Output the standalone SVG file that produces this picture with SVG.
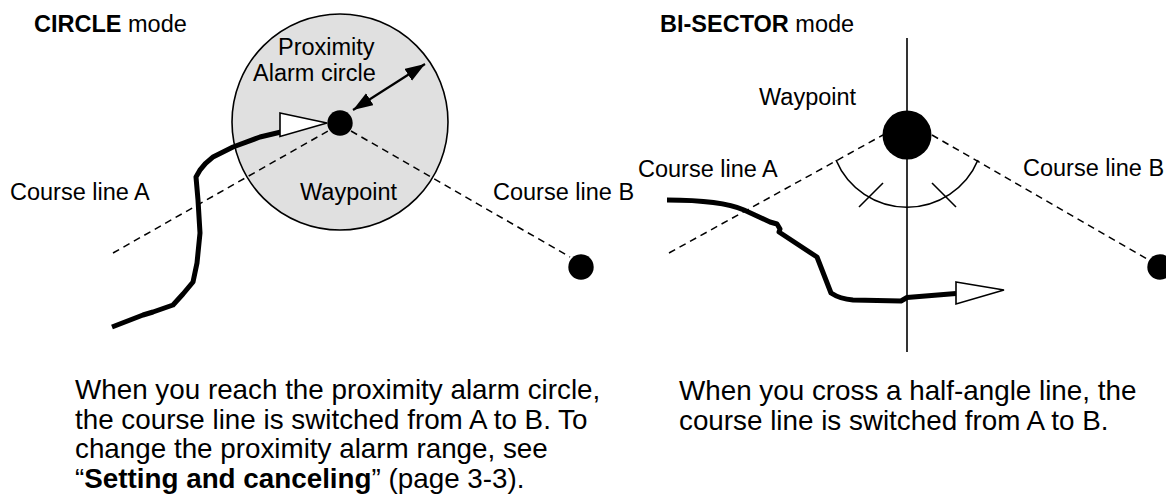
<svg xmlns="http://www.w3.org/2000/svg" width="1166" height="500" viewBox="0 0 1166 500">
  <style>
    text { font-family: "Liberation Sans", Arial, sans-serif; fill: #000; }
    .lbl { font-size: 23.5px; }
    .body { font-size: 27.8px; }
    .b { font-weight: bold; }
    .dash { fill: none; stroke: #000; stroke-width: 1.5; stroke-dasharray: 7 5; }
    .track { fill: none; stroke: #000; stroke-width: 5; stroke-linejoin: round; stroke-linecap: butt; }
    .thin { fill: none; stroke: #000; stroke-width: 1.6; }
    .open { fill: #fff; stroke: #000; stroke-width: 1.6; stroke-linejoin: miter; }
  </style>
  <defs>
    <marker id="ah" markerUnits="userSpaceOnUse" markerWidth="22" markerHeight="16" refX="20" refY="7" orient="auto-start-reverse" viewBox="0 0 22 16">
      <path d="M0,0 L20,7 L0,14 z" fill="#000"/>
    </marker>
  </defs>

  <rect width="1166" height="500" fill="#fff"/>

  <!-- LEFT PANEL: CIRCLE mode -->
  <g id="circle-mode-title">
    <text x="34" y="32" class="lbl"><tspan class="b">CIRCLE</tspan> mode</text>
  </g>
  <g id="proximity-circle">
    <circle cx="340" cy="122" r="108" fill="#e0e0e0" stroke="#000" stroke-width="1.6"/>
    <text x="278" y="55" class="lbl">Proximity</text>
    <text x="253" y="81" class="lbl">Alarm circle</text>
  </g>
  <g id="label-course-a-left">
    <text x="10" y="200" class="lbl">Course line A</text>
  </g>
  <g id="label-course-b-left">
    <text x="493" y="200" class="lbl">Course line B</text>
  </g>

  <!-- RIGHT PANEL: BI-SECTOR mode -->
  <g id="bisector-mode-title">
    <text x="660" y="32" class="lbl"><tspan class="b">BI-SECTOR</tspan> mode</text>
  </g>
  <g id="label-waypoint-right">
    <text x="759" y="105" class="lbl">Waypoint</text>
  </g>
  <g id="label-course-a-right">
    <text x="638" y="177" class="lbl">Course line A</text>
  </g>
  <g id="label-course-b-right">
    <text x="1023" y="176" class="lbl">Course line B</text>
  </g>

  <!-- connectors -->
  <g id="connectors">
    <!-- left dashed course lines -->
    <line class="dash" x1="113" y1="253" x2="328" y2="131"/>
    <line class="dash" x1="351" y1="131" x2="570" y2="257"/>
    <!-- range double arrow -->
    <line x1="353" y1="110" x2="425" y2="64" stroke="#000" stroke-width="2.2" marker-start="url(#ah)" marker-end="url(#ah)"/>
    <!-- left track -->
    <path class="track" d="M112,327 L143,315 L153,312 L173,305 L183,294 L193,282 L197,263 L200,233 L198,200 L196,177 L200,170 Q205,163 213,157 L233,147 L260,137 L281,132"/>
    <polygon class="open" points="280,113 327,123 280,136.5"/>

    <!-- right vertical bisector -->
    <line class="thin" x1="907" y1="38" x2="907" y2="352"/>
    <!-- right dashed course lines -->
    <line class="dash" x1="669" y1="253" x2="883" y2="135"/>
    <line class="dash" x1="932" y1="135" x2="1149" y2="260"/>
    <!-- angle arc and ticks -->
    <path class="thin" d="M836,160 A77,77 0 0 0 978,160"/>
    <line class="thin" x1="859" y1="207" x2="883" y2="183"/>
    <line class="thin" x1="932" y1="183" x2="956" y2="207"/>
    <!-- right track -->
    <path class="track" d="M667,200 C700,200 728,203 744,210 L770,222 L777,224 L780,229 L779,232 L817,257 L831,293 Q840,299 853,300 L901,301 L907,297.5 L956,293.5"/>
    <polygon class="open" points="956,282 1004,290 956,304"/>
  </g>

  <!-- waypoints (drawn above lines) -->
  <g id="waypoint-left">
    <circle cx="340" cy="123" r="12.7" fill="#000"/>
    <text x="300" y="200" class="lbl">Waypoint</text>
  </g>
  <g id="point-b-left">
    <circle cx="581" cy="267" r="12.7" fill="#000"/>
  </g>
  <g id="waypoint-right">
    <circle cx="907" cy="135" r="24.5" fill="#000"/>
  </g>
  <g id="point-b-right">
    <circle cx="1160" cy="267" r="12.7" fill="#000"/>
  </g>

  <!-- descriptions -->
  <g id="desc-left">
    <text x="75" y="399" class="body">When you reach the proximity alarm circle,</text>
    <text x="75" y="428.5" class="body">the course line is switched from A to B. To</text>
    <text x="75" y="458" class="body">change the proximity alarm range, see</text>
    <text x="75" y="487.5" class="body">“<tspan class="b">Setting and canceling</tspan>” (page 3-3).</text>
  </g>
  <g id="desc-right">
    <text x="679" y="400" class="body">When you cross a half-angle line, the</text>
    <text x="679" y="430" class="body">course line is switched from A to B.</text>
  </g>
</svg>
